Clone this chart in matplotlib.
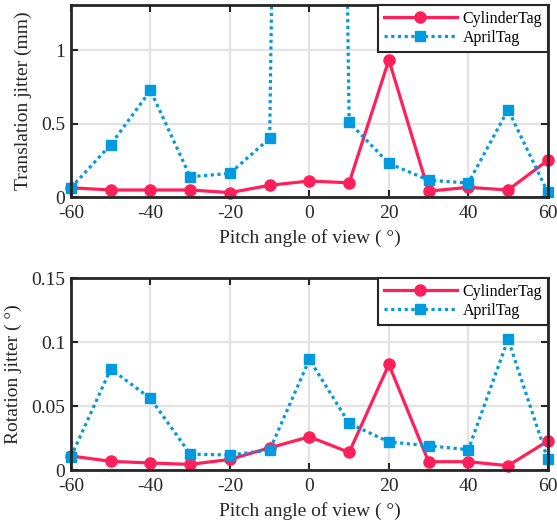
import matplotlib
matplotlib.use('Agg')
import numpy as np
from matplotlib import pyplot as plt
from matplotlib.lines import Line2D

angles = [-60, -50, -40, -30, -20, -10, 0, 10, 20, 30, 40, 50, 60]

cyl_trans = [0.063, 0.048, 0.048, 0.048, 0.030, 0.080, 0.109, 0.097, 0.934, 0.040, 0.066, 0.048, 0.250]
april_trans = [0.063, 0.357, 0.726, 0.138, 0.161, 0.400, 20.0, 0.509, 0.229, 0.115, 0.095, 0.595, 0.032]

cyl_rot = [0.0110, 0.0068, 0.0055, 0.0044, 0.0083, 0.0174, 0.0260, 0.0138, 0.0826, 0.0065, 0.0065, 0.0034, 0.0227]
april_rot = [0.0104, 0.0790, 0.0560, 0.0125, 0.0117, 0.0156, 0.0865, 0.0365, 0.0220, 0.0190, 0.0159, 0.1023, 0.0083]

RED = '#ff1f5b'
BLUE = '#009ade'
DARK = '#262626'
DOTS = (0, (1.0, 1.1))

plt.rcParams['font.family'] = ['Liberation Serif', 'DejaVu Serif']

fig = plt.figure(figsize=(5.57, 5.24), dpi=100)
ax1 = fig.add_axes([0.1275, 0.624, 0.856, 0.366])
ax2 = fig.add_axes([0.1275, 0.103, 0.856, 0.366])


def draw(ax, cyl, april, ytop):
    ax.plot(angles, cyl, color=RED, linewidth=2.3, zorder=3)
    ax.plot(angles, april, color=BLUE, linewidth=2.3, linestyle=DOTS, zorder=3)
    # markers drawn unclipped so the edge points show whole, as in the original
    ax.plot(angles, np.ma.masked_greater(cyl, ytop), linestyle='none', marker='o',
            markersize=8, color=RED, zorder=4, clip_on=False)
    ax.plot(angles, np.ma.masked_greater(april, ytop), linestyle='none', marker='s',
            markersize=7.5, color=BLUE, zorder=4, clip_on=False)


def style(ax, ytop, yticks, yticklabels, ylabel):
    ax.set_xlim(-60, 60)
    ax.set_ylim(0, ytop)
    ax.set_xticks(range(-60, 61, 20))
    ax.set_xticklabels([str(v) for v in range(-60, 61, 20)])
    ax.set_yticks(yticks)
    ax.set_yticklabels(yticklabels)
    ax.grid(color='#e3e3e3', linewidth=1.6, zorder=0)
    ax.set_axisbelow(True)
    for s in ax.spines.values():
        s.set_linewidth(2.0)
        s.set_color(DARK)
        s.set_zorder(5)
    ax.tick_params(direction='in', top=True, right=True, length=5, width=1.5,
                   labelsize=14, colors=DARK, labelcolor=DARK, pad=4)
    ax.tick_params(axis='x', pad=6)
    ax.set_xlabel('Pitch angle of view ( °)', fontsize=14, color=DARK, labelpad=5)
    ax.set_ylabel(ylabel, fontsize=14, color=DARK, labelpad=7)
    handles = [
        Line2D([], [], color=RED, linewidth=2.3, marker='o', markersize=8),
        Line2D([], [], color=BLUE, linewidth=2.3, linestyle=DOTS, marker='s', markersize=7.5),
    ]
    leg = ax.legend(handles, ['CylinderTag', 'AprilTag'], loc='upper right', fontsize=11.5,
                    handlelength=4.6, borderpad=0.35, labelspacing=0.2, handletextpad=0.35,
                    borderaxespad=0.0, fancybox=False, framealpha=1)
    leg.get_frame().set_edgecolor(DARK)
    leg.get_frame().set_linewidth(1.5)
    leg.set_zorder(6)


draw(ax1, cyl_trans, april_trans, 1.306)
draw(ax2, cyl_rot, april_rot, 0.15)
style(ax1, 1.306, [0, 0.5, 1], ['0', '0.5', '1'], 'Translation jitter (mm)')
style(ax2, 0.15, [0, 0.05, 0.1, 0.15], ['0', '0.05', '0.1', '0.15'], 'Rotation jitter ( °)')

fig.savefig('out.png', dpi=100)
